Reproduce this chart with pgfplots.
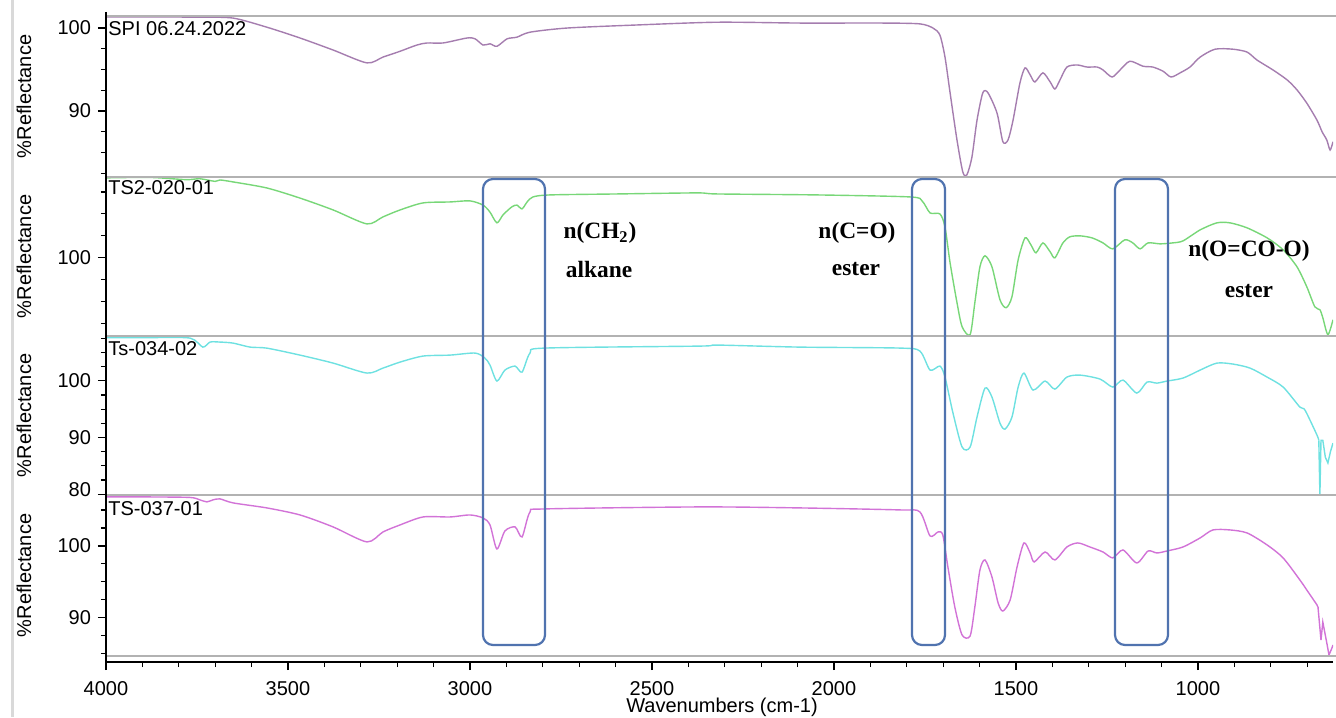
\documentclass[border=0pt]{standalone}
\usepackage{fontspec}
\setmainfont{Liberation Sans}
\newfontfamily\annfont{Liberation Serif}
\usepackage{pgfplots}
\pgfplotsset{compat=1.18}

\definecolor{spi}{RGB}{165,125,175}
\definecolor{tsgreen}{RGB}{120,215,120}
\definecolor{tscyan}{RGB}{110,225,225}
\definecolor{tsmag}{RGB}{210,115,215}
\definecolor{boxblue}{RGB}{80,115,175}
\definecolor{panelgray}{RGB}{178,178,178}

\pgfplotsset{
  panel/.style={
    scale only axis, width=613.5pt, anchor=north west,
    x dir=reverse, xmin=629, xmax=4000,
    axis x line=none, axis y line*=left,
    y axis line style={line width=1.1pt},
    tick align=outside, major tick length=4pt, minor tick length=2.5pt,
    tick style={black, line width=0.6pt},
    tick label style={font=\fontsize{10}{12}\selectfont},
    /pgf/number format/assume math mode=true,
    /pgf/number format/1000 sep={},
  },
  spec/.style={line width=0.7pt, smooth, tension=0.45},
}

\begin{document}
\begin{tikzpicture}
\path[use as bounding box] (0pt,0pt) rectangle (668pt,-358.5pt);

% SPI 06.24.2022
\begin{axis}[panel, at={(53pt,-8pt)}, height=80.5pt,
  ymin=82.05, ymax=101.45, ytick={90,100}, minor ytick={82.5,85,87.5,92.5,95,97.5}]
\addplot[spi, spec] coordinates {
(4000,101.35)(3879,101.35)(3742,101.3)(3651,101.2)(3558,100.1)(3467,98.8)(3376,97.35)
(3283,95.8)(3239,96.5)(3192,97.2)(3146,97.95)(3118,98.2)(3074,98.2)(3008,98.8)(2986,98.7)
(2964,97.95)(2945,98.1)(2926,97.8)(2898,98.7)(2871,98.9)(2835,99.5)(2733,100.0)(2552,100.35)
(2321,100.7)(2093,100.6)(1865,100.6)(1764,100.5)(1728,100.0)(1709,99.15)(1695,96.5)
(1681,92.2)(1662,86.5)(1646,82.65)(1635,82.3)(1621,84.45)(1607,88.9)(1591,92.2)(1577,92.2)
(1552,89.75)(1536,86.3)(1522,86.5)(1508,88.9)(1489,93.4)(1475,95.2)(1461,94.35)(1448,93.5)
(1426,94.6)(1406,93.5)(1393,92.65)(1379,93.75)(1360,95.3)(1332,95.55)(1305,95.3)(1277,95.3)
(1261,94.95)(1236,94.1)(1214,94.95)(1187,96.0)(1151,95.4)(1124,95.3)(1096,94.8)(1074,94.1)
(1049,94.6)(1022,95.3)(994,96.5)(953,97.45)(904,97.45)(865,97.1)(838,96.15)(794,94.95)
(755,93.75)(728,92.55)(701,90.95)(673,88.9)(659,87.5)(646,86.5)(637,85.3)(629,86.3)};
\end{axis}

% TS2-020-01
\begin{axis}[panel, at={(53pt,-88.5pt)}, height=79.5pt,
  ymin=91.1, ymax=109.2, ytick={100}, minor ytick={92.5,95,97.5,102.5,105,107.5}]
\addplot[tsgreen, spec] coordinates {
(4000,109.1)(3879,109.15)(3780,108.9)(3742,109.0)(3700,108.7)(3687,108.86)(3651,108.64)
(3558,107.95)(3467,106.8)(3376,105.45)(3283,103.86)(3239,104.66)(3192,105.45)(3129,106.25)
(3055,106.36)(3000,106.48)(2964,106.0)(2945,105.2)(2926,103.98)(2909,104.9)(2885,105.8)
(2871,106.0)(2857,105.57)(2843,106.36)(2827,106.93)(2780,107.16)(2596,107.27)(2376,107.39)
(2321,107.27)(2047,107.16)(1791,106.93)(1758,106.48)(1736,105.11)(1709,105.0)(1695,103.52)
(1681,99.43)(1662,94.89)(1648,92.16)(1626,91.25)(1613,94.89)(1599,98.98)(1585,100.23)
(1566,98.98)(1544,95.23)(1527,94.32)(1511,95.57)(1494,99.77)(1475,102.27)(1459,101.48)
(1445,100.57)(1426,101.7)(1406,100.68)(1393,100.0)(1371,101.7)(1352,102.39)(1324,102.5)
(1291,102.27)(1261,101.7)(1234,101.02)(1201,102.05)(1179,101.7)(1159,101.02)(1137,101.7)
(1104,101.59)(1069,101.7)(1041,101.93)(994,103.18)(948,103.98)(912,103.98)(865,103.41)
(810,102.27)(766,100.91)(728,98.98)(701,96.7)(679,94.43)(665,94.09)(657,93.18)(643,91.25)
(629,92.95)};
\end{axis}

% Ts-034-02
\begin{axis}[panel, at={(53pt,-168pt)}, height=79.5pt,
  ymin=79.85, ymax=107.9, ytick={80,90,100},
  yticklabels={{\raisebox{4.5pt}{80}},90,100},
  minor ytick={82.5,85,87.5,92.5,95,97.5,102.5,105,107.5}]
\addplot[tscyan, spec] coordinates {
(4000,107.62)(3879,107.62)(3769,107.53)(3734,105.94)(3714,106.83)(3687,106.83)(3651,106.65)
(3604,105.94)(3558,105.76)(3467,104.53)(3376,103.12)(3283,101.36)(3239,102.24)(3192,103.3)
(3129,104.36)(3055,104.53)(2986,104.89)(2959,104.0)(2945,102.77)(2926,99.95)(2904,101.89)
(2876,102.59)(2857,101.53)(2835,104.89)(2794,105.77)(2368,106.12)(2321,106.3)(2093,105.94)
(1819,105.77)(1764,105.24)(1736,101.89)(1709,102.59)(1695,100.65)(1673,94.3)(1648,88.31)
(1626,88.31)(1607,93.6)(1585,98.71)(1566,97.13)(1544,92.54)(1530,91.48)(1511,93.6)
(1494,98.89)(1478,101.36)(1453,98.36)(1420,99.95)(1393,98.54)(1360,100.65)(1324,101.0)
(1269,100.3)(1234,98.89)(1206,100.12)(1168,97.83)(1140,99.77)(1113,99.59)(1085,99.95)
(1041,100.48)(994,101.89)(948,103.12)(904,102.95)(857,102.24)(810,100.65)(766,98.89)
(720,95.36)(706,94.83)(673,90.42)(668,89.5)};
\addplot[tscyan, line width=0.7pt] coordinates {
(668,89.5)(665,79.9)(662,89.5)(657,89.5)(650,86.5)(643,85.5)(636,87.5)(629,89.0)};
\end{axis}

% TS-037-01
\begin{axis}[panel, at={(53pt,-247.5pt)}, height=80.5pt,
  ymin=84.66, ymax=107.1, ytick={90,100},
  minor ytick={85,87.5,92.5,95,97.5,102.5,105}]
\addplot[tsmag, spec] coordinates {
(4000,106.83)(3879,106.83)(3769,106.76)(3742,106.42)(3723,106.14)(3706,106.42)(3687,106.56)
(3651,106.0)(3558,105.3)(3467,104.32)(3376,102.65)(3283,100.56)(3239,101.95)(3192,102.93)
(3129,104.04)(3055,104.04)(3000,104.32)(2964,103.9)(2945,102.93)(2926,99.58)(2904,102.09)
(2876,102.65)(2857,101.26)(2835,104.74)(2794,105.16)(2368,105.44)(2093,105.3)(1819,105.02)
(1764,104.74)(1736,101.39)(1714,101.95)(1701,101.53)(1687,97.07)(1668,91.49)(1648,87.59)
(1626,87.45)(1613,91.49)(1599,96.65)(1585,98.05)(1566,95.68)(1549,92.05)(1536,90.93)
(1516,92.47)(1497,97.07)(1478,100.42)(1461,99.02)(1450,97.77)(1420,99.16)(1393,98.05)
(1360,99.86)(1330,100.42)(1297,99.86)(1261,99.16)(1234,98.33)(1206,99.44)(1168,97.63)
(1137,99.3)(1113,99.02)(1085,99.3)(1041,99.86)(994,101.12)(959,102.23)(912,102.23)
(865,101.81)(810,100.14)(766,98.33)(720,95.26)(701,93.86)(673,91.77)(670,91.35)};
\addplot[tsmag, line width=0.7pt] coordinates {
(670,91.35)(662,86.89)(657,89.4)(646,86.47)(640,84.8)(632,85.77)(629,86.2)};
\end{axis}

% x axis
\begin{axis}[scale only axis, width=613.5pt, height=2pt, anchor=south west,
  at={(53pt,-331pt)}, x dir=reverse, xmin=629, xmax=4000, ymin=0, ymax=1,
  axis y line=none, axis x line*=bottom, x axis line style={line width=1.2pt},
  xtick={1000,1500,...,4000}, minor xtick={700,800,...,3900},
  tick align=outside, major tick length=4pt, minor tick length=2.5pt,
  tick style={black, line width=0.6pt},
  tick label style={font=\fontsize{10}{12}\selectfont, yshift=-2pt},
  /pgf/number format/assume math mode=true,
  /pgf/number format/1000 sep={}]
\end{axis}

\begin{scope}[x=0.5pt, y=-0.5pt]
\draw[gray!30, line width=1.5pt] (12,0) -- (12,717);
\foreach \yy in {16,177,336,495,656}
  \draw[panelgray, line width=1pt] (106,\yy) -- (1336,\yy);
\draw[black, line width=1.2pt] (106,12) -- (106,662);

\begin{scope}[font=\fontsize{10}{12}\selectfont]
\node[anchor=north west, inner sep=0] at (108,21) {SPI 06.24.2022};
\node[anchor=north west, inner sep=0] at (108,180) {TS2-020-01};
\node[anchor=north west, inner sep=0] at (108,341) {Ts-034-02};
\node[anchor=north west, inner sep=0] at (108,501) {TS-037-01};
\foreach \yy in {96.5,256.5,415.5,575.5}
  \node[rotate=90] at (24,\yy) {\%Reflectance};
\node at (722,707) {Wavenumbers (cm-1)};
\end{scope}

\draw[boxblue, line width=1.1pt, rounded corners=5pt] (483,179) rectangle (545,645);
\draw[boxblue, line width=1.1pt, rounded corners=5pt] (912,179) rectangle (945,645);
\draw[boxblue, line width=1.1pt, rounded corners=5pt] (1115,179) rectangle (1168,645);

\begin{scope}[font=\annfont\bfseries\fontsize{11.7}{14}\selectfont]
\node at (600,233) {n(CH\textsubscript{2})};
\node at (599,269) {alkane};
\node at (857,233) {n(C=O)};
\node at (856,269) {ester};
\node at (1249,251) {n(O=CO-O)};
\node at (1249,291) {ester};
\end{scope}
\end{scope}
\end{tikzpicture}
\end{document}
